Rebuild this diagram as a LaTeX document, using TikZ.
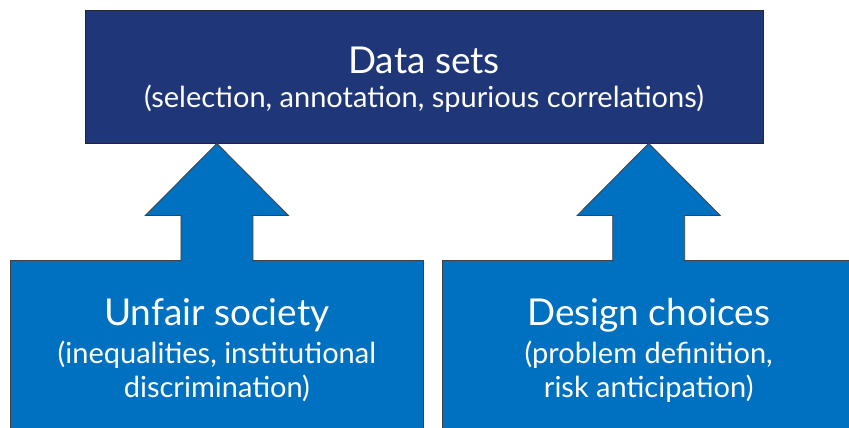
\documentclass[tikz,border=0pt]{standalone}
\usepackage{fontspec}
\setmainfont{Lato}
\usetikzlibrary{positioning,calc}
\definecolor{navy}{RGB}{31,55,120}
\definecolor{office}{RGB}{0,112,192}

\begin{document}
\begin{tikzpicture}[
    x=1pt, y=1pt,
    topbox/.style={rectangle, draw=black!85, line width=0.8pt, fill=navy, text=white, align=center, font=\fontsize{29}{34}\selectfont, minimum width=678pt, minimum height=133pt, inner sep=0pt},
    srcbox/.style={rectangle, draw=black!75, line width=0.8pt, fill=office, text=white, align=center, font=\fontsize{29}{34}\selectfont, minimum width=413pt, minimum height=180pt, inner sep=0pt},
    blockarrow/.style={fill=office, draw=black!75, line width=0.8pt, line join=miter}
]

\useasboundingbox (0,0) rectangle (849,-428);

% Target
\node[topbox] (data) at (424,-76.5) {\fontsize{37}{37}\selectfont\rule{0pt}{33pt}Data sets\\
    (selection, annotation, spurious correlations)};

% Sources
\node[srcbox, anchor=north west] (unfair) at (10,-260) {\fontsize{37}{37}\selectfont Unfair society\\[4pt]
    (inequalities, institutional\\
    discrimination)};
\node[srcbox, right=18pt of unfair] (design) {\fontsize{37}{37}\selectfont Design choices\\[4pt]
    (problem definition,\\
    risk anticipation)};

% Arrows
\foreach \src in {unfair, design} {
    \coordinate (\src tip) at (data.south -| \src.north);
    \filldraw[blockarrow] ($(\src tip)+(-36,-118)$) -- ($(\src tip)+(-36,-72)$) -- ($(\src tip)+(-71.5,-72)$)
        -- (\src tip) -- ($(\src tip)+(71.5,-72)$) -- ($(\src tip)+(36,-72)$) -- ($(\src tip)+(36,-118)$);
}

\end{tikzpicture}
\end{document}
